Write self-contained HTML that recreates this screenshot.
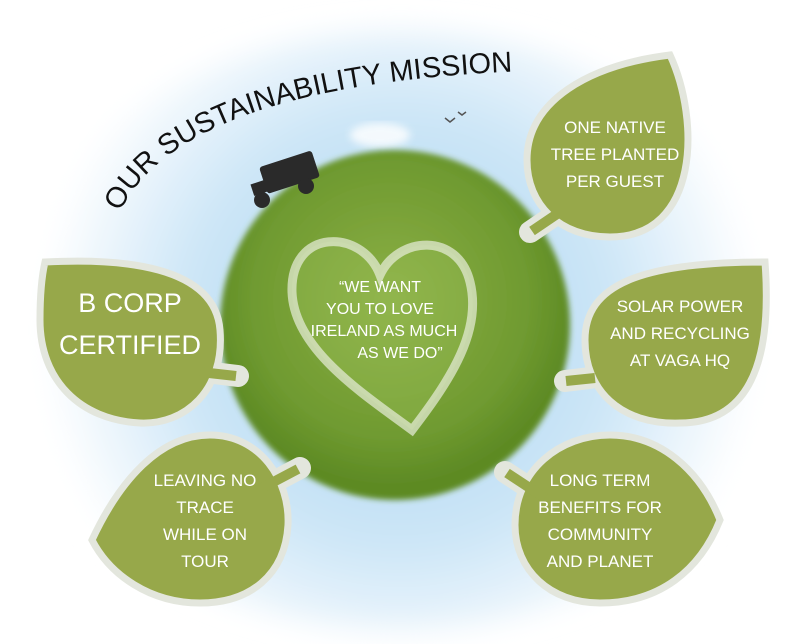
<!DOCTYPE html>
<html><head><meta charset="utf-8"><style>
html,body{margin:0;padding:0;background:#fff;}
svg{display:block;}
text{font-family:"Liberation Sans Narrow","Liberation Sans",sans-serif;}
</style></head><body>
<svg width="800" height="644" viewBox="0 0 800 644" xmlns="http://www.w3.org/2000/svg">
<defs>
<radialGradient id="sky" cx="400" cy="330" r="360" gradientUnits="userSpaceOnUse">
<stop offset="0" stop-color="#a9d3f0"/><stop offset="0.6" stop-color="#cde6f7"/><stop offset="1" stop-color="#ffffff"/>
</radialGradient>
<radialGradient id="grass" cx="390" cy="300" r="185" gradientUnits="userSpaceOnUse">
<stop offset="0" stop-color="#8cb046"/><stop offset="0.75" stop-color="#6f9a30"/><stop offset="1" stop-color="#5d8a24"/>
</radialGradient>
<filter id="blur"><feGaussianBlur stdDeviation="14"/></filter>
<filter id="sblur"><feGaussianBlur stdDeviation="4"/></filter>
<filter id="gblur"><feGaussianBlur stdDeviation="3"/></filter>
</defs>
<rect width="800" height="644" fill="#fff"/>
<ellipse cx="400" cy="330" rx="390" ry="300" fill="url(#sky)" filter="url(#blur)"/>
<ellipse cx="380" cy="135" rx="30" ry="12" fill="#fff" opacity="0.8" filter="url(#sblur)"/>
<circle cx="395" cy="325" r="175" fill="url(#grass)" filter="url(#gblur)"/>
<g fill="#2a2a2a">
<rect x="262" y="158" width="55" height="28" rx="3" transform="rotate(-18 290 172)"/>
<circle cx="262" cy="200" r="8"/><circle cx="306" cy="186" r="8"/>
<rect x="252" y="182" width="14" height="12" transform="rotate(-18 259 188)"/>
</g>
<path d="M445,118 l5,4 l5,-4 M458,112 l4,3 l4,-3" stroke="#555" stroke-width="1.5" fill="none"/>
<path d="M380,275 C362,228 290,228 292,292 C294,350 365,395 412,430 C452,378 482,330 470,282 C458,232 398,236 380,275 Z" fill="#9cbf58" fill-opacity="0.35" stroke="#e8eedc" stroke-opacity="0.7" stroke-width="9"/>
<g fill="#fff" font-size="16" text-anchor="middle">
<text x="380" y="292">“WE WANT</text>
<text x="380" y="314">YOU TO LOVE</text>
<text x="384" y="336">IRELAND AS MUCH</text>
<text x="400" y="358">AS WE DO”</text>
</g>
<path id="arc" d="M120,212 Q185,78 560,70" fill="none"/>
<text font-size="29" fill="#111" letter-spacing="0"><textPath href="#arc">OUR SUSTAINABILITY MISSION</textPath></text>
<g stroke="#e3e6dd" stroke-linecap="round">
<path d="M555,215 L530,232" stroke-width="22"/>
<path d="M590,378 L565,381" stroke-width="22"/>
<path d="M540,495 L505,472" stroke-width="22"/>
<path d="M205,372 L238,376" stroke-width="22"/>
<path d="M268,485 L300,468" stroke-width="22"/>
</g>
<g fill="#97a84a" stroke="#e3e6dd" stroke-width="7">
<path d="M670,55 C700,120 700,237 610,237 C560,237 527,205 527,160 C527,100 590,65 670,55 Z"/>
<path d="M765,262 C770,330 765,423 680,423 C620,425 585,390 585,340 C585,285 640,262 765,262 Z"/>
<path d="M720,520 C700,570 660,603 600,603 C550,603 515,570 515,525 C515,470 560,435 610,435 C660,435 700,470 720,520 Z"/>
<path d="M45,262 C120,258 215,265 220,330 C225,390 185,425 140,423 C80,420 40,380 40,320 C40,295 42,275 45,262 Z"/>
<path d="M92,540 C120,480 160,435 210,435 C260,435 290,480 288,525 C285,575 250,603 200,603 C150,603 110,575 92,540 Z"/>
</g>
<g stroke="#97a84a" stroke-width="10">
<path d="M560,212 L532,231"/>
<path d="M595,378 L566,381"/>
<path d="M545,498 L507,473"/>
<path d="M200,372 L236,376"/>
<path d="M262,488 L298,469"/>
</g>
<g fill="#fff" text-anchor="middle" font-size="17">
<text x="615" y="133">ONE NATIVE</text>
<text x="615" y="160">TREE PLANTED</text>
<text x="615" y="187">PER GUEST</text>
<text x="680" y="312">SOLAR POWER</text>
<text x="680" y="339">AND RECYCLING</text>
<text x="680" y="366">AT VAGA HQ</text>
<text x="600" y="486">LONG TERM</text>
<text x="600" y="513">BENEFITS FOR</text>
<text x="600" y="540">COMMUNITY</text>
<text x="600" y="567">AND PLANET</text>
<text x="205" y="486">LEAVING NO</text>
<text x="205" y="513">TRACE</text>
<text x="205" y="540">WHILE ON</text>
<text x="205" y="567">TOUR</text>
</g>
<g fill="#fff" text-anchor="middle" font-size="27">
<text x="130" y="312">B CORP</text>
<text x="130" y="354">CERTIFIED</text>
</g>
</svg>
</body></html>
